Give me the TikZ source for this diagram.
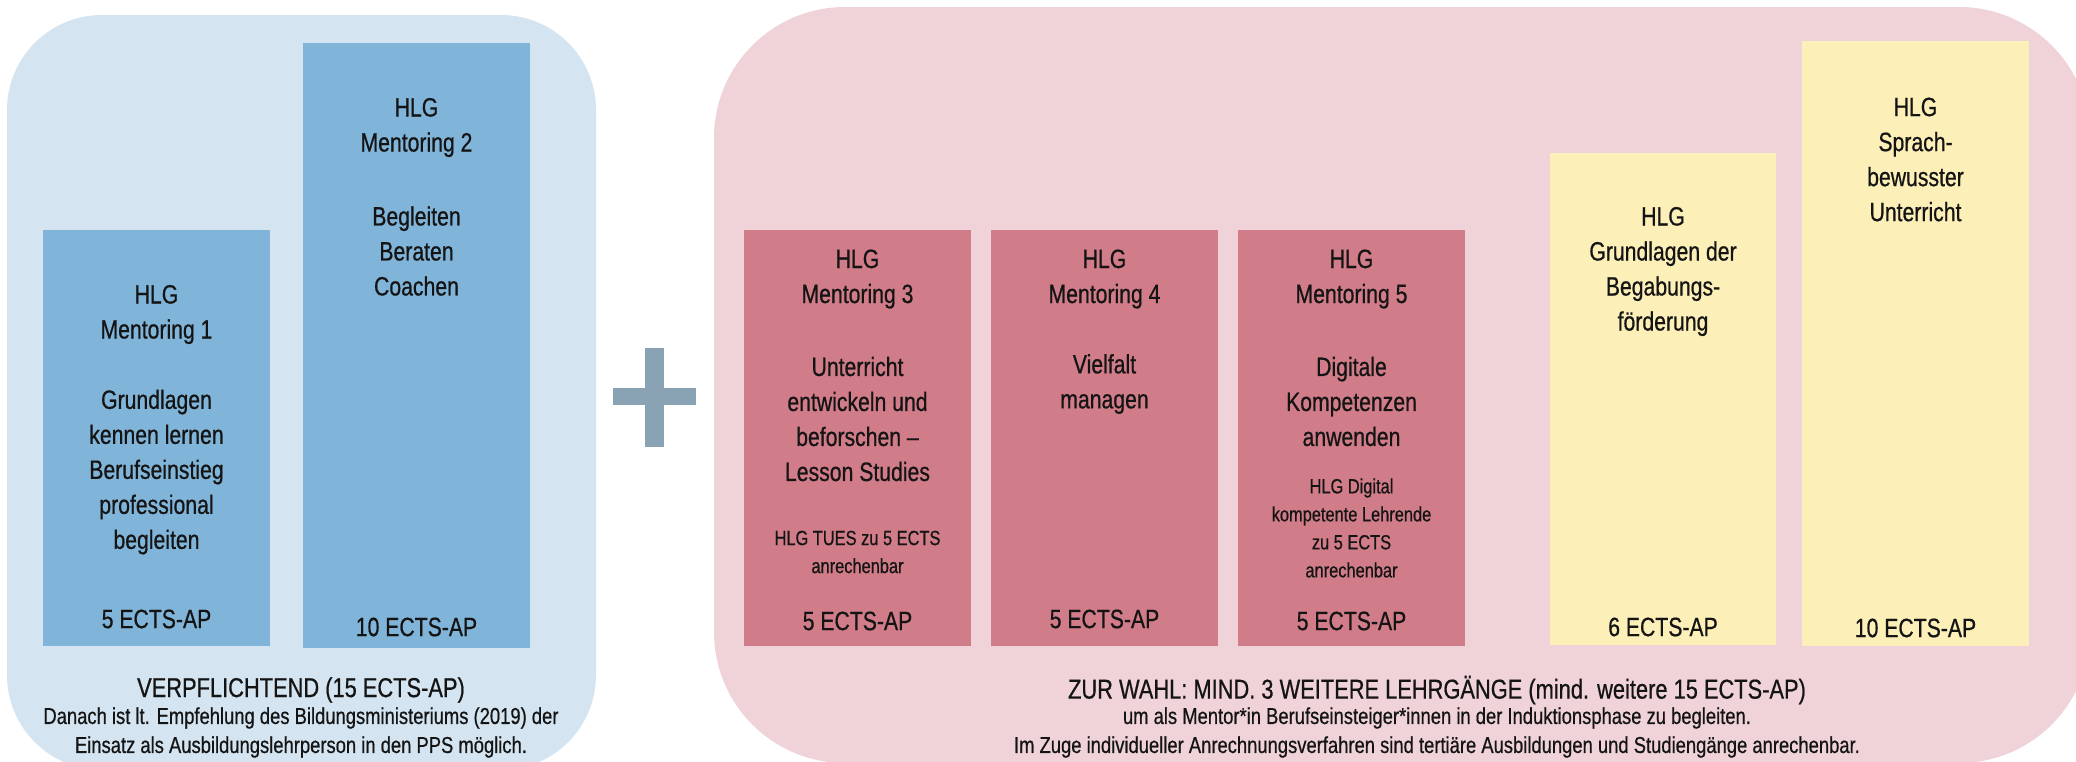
\documentclass[tikz,border=0pt]{standalone}
\usepackage{fontspec}
\setmainfont{Liberation Sans}[FakeStretch=0.80,FakeBold=0.6]
\definecolor{bluebg}{HTML}{D4E5F1}
\definecolor{bluebox}{HTML}{80B4D8}
\definecolor{pinkbg}{HTML}{F0D3D9}
\definecolor{pinkbox}{HTML}{D17C89}
\definecolor{yellowbox}{HTML}{FCEFB7}
\definecolor{plusc}{HTML}{8AA3B4}
\definecolor{txt}{HTML}{141414}
\tikzset{
  panel/.style={inner sep=0pt, outer sep=0pt, anchor=north west, draw=none},
  cbox/.style={inner sep=0pt, outer sep=0pt, anchor=north west, draw=none},
  big/.style={font=\fontsize{26.5}{35}\selectfont, align=center, text=txt, inner sep=0pt},
  title/.style={font=\fontsize{27.3}{35}\selectfont, align=center, text=txt, inner sep=0pt},
  small/.style={font=\fontsize{20.5}{28}\selectfont, align=center, text=txt, inner sep=0pt},
  note/.style={font=\fontsize{23}{29}\selectfont, align=center, text=txt, inner sep=0pt},
}
\begin{document}
\begin{tikzpicture}[x=1pt,y=-1pt]
\useasboundingbox (0,0) rectangle (2076,761);
\clip (0,0) rectangle (2076,761);
\fill[white] (0,0) rectangle (2076,761);
% panels
\node[panel, fill=bluebg, rounded corners=95pt, minimum width=589pt, minimum height=755pt] (vpanel) at (7,15) {};
\node[panel, fill=pinkbg, rounded corners=131pt, minimum width=1376pt, minimum height=756pt] (wpanel) at (714,7) {};
% plus
\node[cbox, fill=plusc, minimum width=19pt, minimum height=99pt] (plusv) at (645,348) {};
\node[cbox, fill=plusc, minimum width=83pt, minimum height=17pt] (plush) at (613,388) {};
% boxes
\node[cbox, fill=bluebox, minimum width=227pt, minimum height=416pt] (m1) at (43,230) {};
\node[cbox, fill=bluebox, minimum width=227pt, minimum height=605pt] (m2) at (303,43) {};
\node[cbox, fill=pinkbox, minimum width=227pt, minimum height=416pt] (m3) at (744,230) {};
\node[cbox, fill=pinkbox, minimum width=227pt, minimum height=416pt] (m4) at (991,230) {};
\node[cbox, fill=pinkbox, minimum width=227pt, minimum height=416pt] (m5) at (1238,230) {};
\node[cbox, fill=yellowbox, minimum width=226pt, minimum height=492pt] (y1) at (1550,153) {};
\node[cbox, fill=yellowbox, minimum width=227pt, minimum height=605pt] (y2) at (1802,41) {};
% M1
\node[big] (m1a) at (156.5,314.5) {HLG\\Mentoring 1};
\node[big] (m1b) at (156.5,472) {Grundlagen\\kennen lernen\\Berufseinstieg\\professional\\begleiten};
\node[big] (m1c) at (156.5,619) {5 ECTS-AP};
% M2
\node[big] (m2a) at (416.5,127.5) {HLG\\Mentoring 2};
\node[big] (m2b) at (416.5,251) {Begleiten\\Beraten\\Coachen};
\node[big] (m2c) at (416.5,627) {10 ECTS-AP};
% M3
\node[big] (m3a) at (857.5,279) {HLG\\Mentoring 3};
\node[big] (m3b) at (857.5,419) {Unterricht\\entwickeln und\\beforschen --\\Lesson Studies};
\node[small] (m3n) at (857.5,552) {HLG TUES zu 5 ECTS\\anrechenbar};
\node[big] (m3c) at (857.5,621) {5 ECTS-AP};
% M4
\node[big] (m4a) at (1104.5,279) {HLG\\Mentoring 4};
\node[big] (m4b) at (1104.5,384) {Vielfalt\\managen};
\node[big] (m4c) at (1104.5,619) {5 ECTS-AP};
% M5
\node[big] (m5a) at (1351.5,279) {HLG\\Mentoring 5};
\node[big] (m5b) at (1351.5,401.5) {Digitale\\Kompetenzen\\anwenden};
\node[small] (m5n) at (1351.5,528) {HLG Digital\\kompetente Lehrende\\zu 5 ECTS\\anrechenbar};
\node[big] (m5c) at (1351.5,621) {5 ECTS-AP};
% Y1
\node[big] (y1a) at (1663,271.5) {HLG\\Grundlagen der\\Begabungs-\\förderung};
\node[big] (y1c) at (1663,627) {6 ECTS-AP};
% Y2
\node[big] (y2a) at (1915.5,159.5) {HLG\\Sprach-\\bewusster\\Unterricht};
\node[big] (y2c) at (1915.5,628) {10 ECTS-AP};
% bottom texts
\node[title] (vt) at (301,690) {VERPFLICHTEND (15 ECTS-AP)};
\node[note] (vn) at (301,732.5) {Danach ist lt. Empfehlung des Bildungsministeriums (2019) der\\Einsatz als Ausbildungslehrperson in den PPS möglich.};
\node[title] (wt) at (1437,690) {ZUR WAHL: MIND. 3 WEITERE LEHRGÄNGE (mind. weitere 15 ECTS-AP)};
\node[note] (wn) at (1437,732.5) {um als Mentor*in Berufseinsteiger*innen in der Induktionsphase zu begleiten.\\Im Zuge individueller Anrechnungsverfahren sind tertiäre Ausbildungen und Studiengänge anrechenbar.};
\end{tikzpicture}
\end{document}
